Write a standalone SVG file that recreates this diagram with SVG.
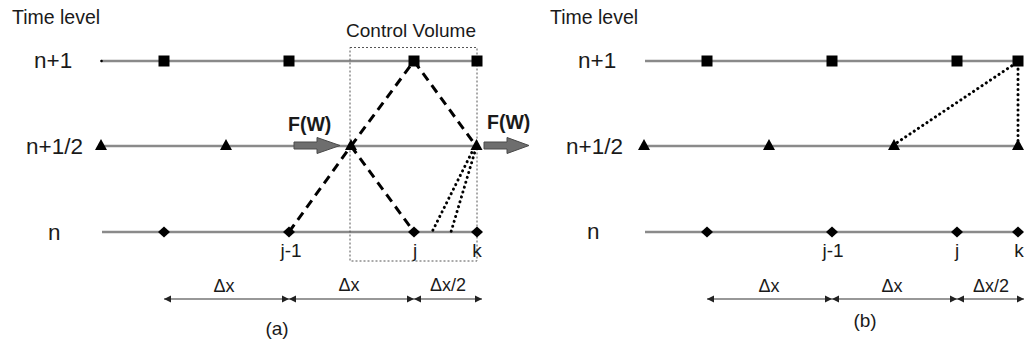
<svg xmlns="http://www.w3.org/2000/svg" width="1028" height="345" viewBox="0 0 1028 345">
<style>
  text { font-family: "Liberation Sans", Arial, sans-serif; fill: #1a1a1a; }
  .lvl { font-size: 22.5px; }
  .hdr { font-size: 19.5px; }
  .idx { font-size: 19px; text-anchor: middle; }
  .dim { font-size: 18px; text-anchor: middle; }
  .fw { font-size: 19.5px; font-weight: bold; }
  .axis { stroke: #8a8a8a; stroke-width: 2.6; fill: none; }
  .dash { stroke: #000; stroke-width: 3; stroke-dasharray: 9 6; fill: none; }
  .dot { stroke: #000; stroke-width: 3; stroke-dasharray: 0.1 5; stroke-linecap: round; fill: none; }
  .cv { stroke: #555; stroke-width: 1; stroke-dasharray: 2 2; fill: none; }
  .dimline { stroke: #333; stroke-width: 1.2; fill: none; marker-start: url(#dimarrow); marker-end: url(#dimarrow); }
  .flux { fill: #6e6e6e; stroke: #4a4a4a; stroke-width: 1; }
</style>
<defs>
  <rect id="sq" x="-5.5" y="-5.5" width="11" height="11" fill="#000"/>
  <path id="tri" d="M0,-6 L6,5 L-6,5 Z" fill="#000"/>
  <path id="dia" d="M0,-5.5 L6,0 L0,5.5 L-6,0 Z" fill="#000"/>
  <marker id="dimarrow" viewBox="0 0 10 10" refX="10" refY="5" markerWidth="7" markerHeight="8" markerUnits="userSpaceOnUse" orient="auto-start-reverse">
    <path d="M0,0 L10,5 L0,10 Z" fill="#222"/>
  </marker>
</defs>

<!-- ===== Panel (a) ===== -->
<g id="a-labels">
  <text class="hdr" x="12" y="24">Time level</text>
  <text class="lvl" x="34" y="68">n+1</text>
  <text class="lvl" x="26" y="154">n+1/2</text>
  <text class="lvl" x="48" y="240">n</text>
  <text id="a-cv-label" x="411" y="37" style="font-size:19px;text-anchor:middle">Control Volume</text>
</g>

<g id="a-axes">
  <line class="axis" x1="101" y1="61" x2="477" y2="61"/>
  <line class="axis" x1="101" y1="146" x2="477" y2="146"/>
  <line class="axis" x1="102" y1="232" x2="477" y2="232"/>
</g>

<g id="a-cv">
  <rect class="cv" x="350" y="47.5" width="127" height="213.5"/>
</g>

<g id="a-connectors">
  <line class="dash" x1="289" y1="232" x2="351" y2="146"/>
  <line class="dash" x1="351" y1="146" x2="414" y2="61"/>
  <line class="dash" x1="414" y1="61" x2="476" y2="146"/>
  <line class="dash" x1="351" y1="146" x2="414" y2="232"/>
  <line class="dot" x1="474" y1="148" x2="432" y2="232"/>
  <line class="dot" x1="476" y1="148" x2="451" y2="232"/>
</g>

<g id="a-n1-nodes">
  <circle cx="101.5" cy="61" r="1.3" fill="#000"/>
  <use href="#sq" x="164" y="61"/>
  <use href="#sq" x="289" y="61"/>
  <use href="#sq" x="414" y="61"/>
  <use href="#sq" x="477" y="61"/>
</g>
<g id="a-nhalf-nodes">
  <use href="#tri" x="101" y="145"/>
  <use href="#tri" x="226" y="145"/>
  <use href="#tri" x="351" y="145"/>
  <use href="#tri" x="476.5" y="145"/>
</g>
<g id="a-n-nodes">
  <use href="#dia" x="164" y="232"/>
  <use href="#dia" x="289" y="232"/>
  <use href="#dia" x="414" y="232"/>
  <use href="#dia" x="477" y="232"/>
</g>

<g id="a-flux-left">
  <path class="flux" d="M294,142 L317,142 L317,137.5 L340,145.5 L317,153.5 L317,149 L294,149 Z"/>
  <text class="fw" x="288" y="131">F(W)</text>
</g>
<g id="a-flux-right">
  <path class="flux" d="M484,142 L507,142 L507,137.5 L529,145.5 L507,153.5 L507,149 L484,149 Z"/>
  <text class="fw" x="487" y="129">F(W)</text>
</g>

<g id="a-index-labels">
  <text class="idx" x="291" y="257">j-1</text>
  <text class="idx" x="415" y="257">j</text>
  <text class="idx" x="477" y="257">k</text>
</g>

<g id="a-dimensions">
  <line class="dimline" x1="164" y1="299" x2="289" y2="299"/>
  <line class="dimline" x1="289" y1="299" x2="414" y2="299"/>
  <line class="dimline" x1="414" y1="299" x2="482" y2="299"/>
  <text class="dim" x="224" y="292">Δx</text>
  <text class="dim" x="349" y="291">Δx</text>
  <text class="dim" x="448" y="291">Δx/2</text>
  <text x="277" y="335" style="font-size:19px;text-anchor:middle">(a)</text>
</g>

<!-- ===== Panel (b) ===== -->
<g id="b-labels">
  <text class="hdr" x="550" y="24">Time level</text>
  <text class="lvl" x="578" y="68">n+1</text>
  <text class="lvl" x="566" y="154">n+1/2</text>
  <text class="lvl" x="587" y="239">n</text>
</g>

<g id="b-axes">
  <line class="axis" x1="645" y1="61" x2="1018" y2="61"/>
  <line class="axis" x1="645" y1="146" x2="1018" y2="146"/>
  <line class="axis" x1="645" y1="232" x2="1018" y2="232"/>
</g>

<g id="b-connectors">
  <line class="dot" x1="1016" y1="63" x2="895" y2="144"/>
  <line class="dot" x1="1018" y1="64" x2="1018" y2="142"/>
</g>

<g id="b-n1-nodes">
  <use href="#sq" x="707" y="61"/>
  <use href="#sq" x="832" y="61"/>
  <use href="#sq" x="957" y="61"/>
  <use href="#sq" x="1018" y="61"/>
</g>
<g id="b-nhalf-nodes">
  <use href="#tri" x="644" y="145"/>
  <use href="#tri" x="769" y="145"/>
  <use href="#tri" x="894" y="145"/>
  <use href="#tri" x="1018" y="145"/>
</g>
<g id="b-n-nodes">
  <use href="#dia" x="707" y="232"/>
  <use href="#dia" x="832" y="232"/>
  <use href="#dia" x="957" y="232"/>
  <use href="#dia" x="1018" y="232"/>
</g>

<g id="b-index-labels">
  <text class="idx" x="833" y="257">j-1</text>
  <text class="idx" x="957" y="257">j</text>
  <text class="idx" x="1019" y="257">k</text>
</g>

<g id="b-dimensions">
  <line class="dimline" x1="707" y1="299" x2="832" y2="299"/>
  <line class="dimline" x1="832" y1="299" x2="957" y2="299"/>
  <line class="dimline" x1="957" y1="299" x2="1024" y2="299"/>
  <text class="dim" x="769" y="292">Δx</text>
  <text class="dim" x="892" y="292">Δx</text>
  <text class="dim" x="991" y="292">Δx/2</text>
  <text x="865" y="327" style="font-size:19px;text-anchor:middle">(b)</text>
</g>
</svg>
